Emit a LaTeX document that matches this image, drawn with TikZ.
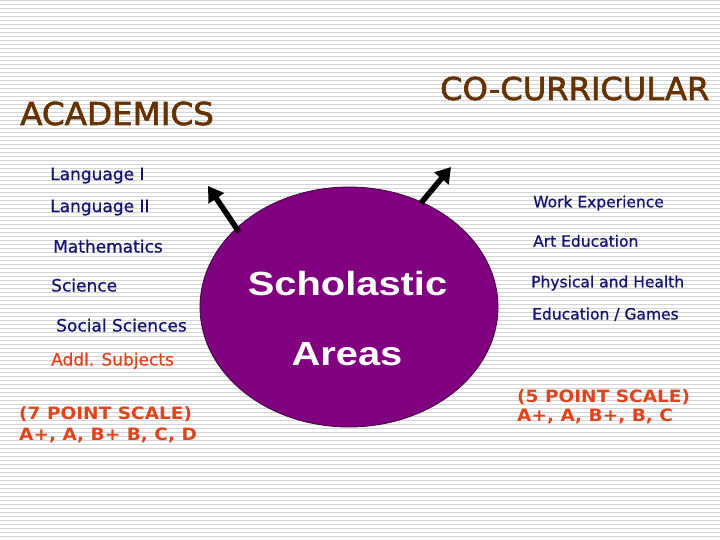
\documentclass[tikz,border=0pt]{standalone}
\usepackage{fontspec}
\setmainfont{DejaVu Sans}
\newfontfamily\arialfont{Liberation Sans}
\newfontfamily\headfont{DejaVu Sans}[FakeBold=2]
\newfontfamily\itemfont{DejaVu Sans}[FakeBold=0.8]
\usetikzlibrary{shapes.geometric,arrows.meta}
\definecolor{stripecol}{HTML}{D4D4D4}
\definecolor{browncol}{HTML}{663300}
\definecolor{navycol}{HTML}{15156E}
\definecolor{orangecol}{HTML}{E0441C}
\definecolor{purplecol}{HTML}{800080}
\definecolor{edgecol}{HTML}{3C0A3C}
\tikzset{
  stripe/.style={draw=stripecol, line width=1pt},
  heading/.style={anchor=base west, inner sep=0pt, text=browncol, font=\headfont\fontsize{31.5}{36}\selectfont},
  leftitem/.style={anchor=base west, inner sep=0pt, text=navycol, font=\itemfont\fontsize{17}{20}\selectfont},
  rightitem/.style={anchor=base west, inner sep=0pt, text=navycol, font=\itemfont\fontsize{15.5}{18}\selectfont},
  scaletext/.style={anchor=base west, inner sep=0pt, text=orangecol, font=\bfseries\fontsize{17}{20}\selectfont},
  bigwhite/.style={anchor=base, inner sep=0pt, text=white, font=\arialfont\bfseries\fontsize{33.5}{38}\selectfont},
  fatarrow/.style={line width=5.5pt, -{Triangle[width=18pt,length=15pt]}, black}
}
\begin{document}
\begin{tikzpicture}[x=1pt,y=-1pt]
\useasboundingbox (0,0) rectangle (720,540);
\fill[white] (0,0) rectangle (720,540);
\foreach \i in {0,...,134} \draw[stripe] (0,0.5+4*\i) -- (720,0.5+4*\i);

% ellipse
\node[ellipse, fill=purplecol, draw=edgecol, line width=0.8pt, minimum width=298pt, minimum height=240pt, inner sep=0pt] (ell) at (349,307) {};
\node[bigwhite] (schol) at (347.5,295) {\scalebox{1.19}[1]{Scholastic}};
\node[bigwhite] (areas) at (347,365) {\scalebox{1.19}[1]{Areas}};

% arrows
\coordinate (ltail) at (239,232);
\coordinate (ltip) at (208,186);
\coordinate (rtail) at (421,203);
\coordinate (rtip) at (451,167);
\draw[fatarrow] (ltail) -- (ltip);
\draw[fatarrow] (rtail) -- (rtip);

% headings
\node[heading] (acad) at (20,125) {\scalebox{1.035}[1]{ACADEMICS}};
\node[heading] (cocur) at (440,100) {\scalebox{1.02}[1]{CO-CURRICULAR}};

% left list
\node[leftitem] (l1) at (50,180) {Language I};
\node[leftitem] (l2) at (50,212) {Language II};
\node[leftitem] (l3) at (53,252.5) {Mathematics};
\node[leftitem] (l4) at (51,291.5) {Science};
\node[leftitem] (l5) at (56,331.5) {Social Sciences};
\node[leftitem, text=orangecol] (l6) at (51,365.5) {Addl. Subjects};
\node[scaletext] (ls1) at (19,419) {\scalebox{1.09}[1]{(7 POINT SCALE)}};
\node[scaletext] (ls2) at (19,440) {\scalebox{1.09}[1]{A+, A, B+ B, C, D}};

% right list
\node[rightitem] (r1) at (533,207.3) {Work Experience};
\node[rightitem] (r2) at (533,246.7) {Art Education};
\node[rightitem] (r3) at (531,287.3) {Physical and Health};
\node[rightitem] (r4) at (532,319.5) {Education / Games};
\node[scaletext] (rs1) at (517,402.5) {\scalebox{1.09}[1]{(5 POINT SCALE)}};
\node[scaletext] (rs2) at (517,421.5) {\scalebox{1.09}[1]{A+, A, B+, B, C}};
\end{tikzpicture}
\end{document}
